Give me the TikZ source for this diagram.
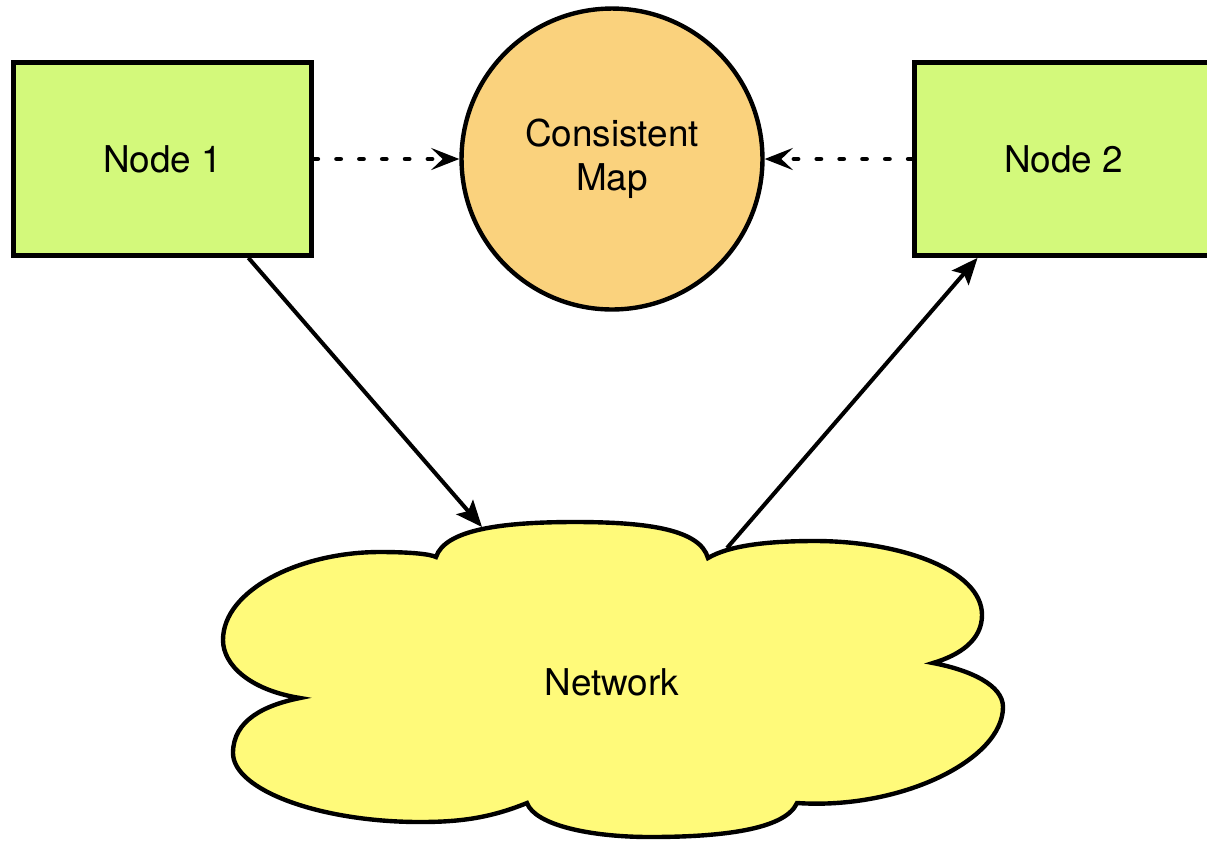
\documentclass[tikz,border=0pt]{standalone}
\usepackage{fontspec}
\setmainfont{TeX Gyre Heros}
\usetikzlibrary{shapes,arrows.meta,positioning,calc}

\definecolor{nodegreen}{HTML}{D3F97B}
\definecolor{maporange}{HTML}{FAD27D}
\definecolor{netyellow}{HTML}{FFFA7A}

\begin{document}
\begin{tikzpicture}[x=0.02cm, y=-0.02cm, font=\fontsize{21}{25}\selectfont]
    % Define styles
    \tikzset{
        block/.style={draw, rectangle, line width=3pt, minimum width=5.95cm, minimum height=3.85cm, fill=nodegreen},
        mapnode/.style={draw, circle, line width=2.5pt, minimum size=6.02cm, fill=maporange, align=center},
        cloudline/.style={draw, line width=2.5pt, fill=netyellow},
        arrow/.style={-{Stealth[length=15pt, width=12.5pt, inset=3pt]}, line width=2.3pt},
        dotarrow/.style={-{Stealth[length=16pt, width=12.5pt, inset=6.5pt]}, line width=2.8pt, line cap=round, dash pattern=on 2.2pt off 10.8pt}
    }
    \useasboundingbox (0,0) rectangle (1207,840);

    % Network cloud (drawn lobe by lobe)
    \draw[cloudline] (436,557)
        .. controls (445,530) and (500,522) .. (575,522)
        .. controls (650,522) and (700,530) .. (708,558)
        .. controls (730,545) and (770,541) .. (815,541)
        .. controls (900,541) and (982,570) .. (982,615)
        .. controls (982,640) and (960,655) .. (933,663)
        .. controls (970,670) and (1003,685) .. (1003,707)
        .. controls (1003,760) and (900,810) .. (797,803)
        .. controls (785,830) and (720,837) .. (650,837)
        .. controls (590,837) and (535,825) .. (527,803)
        .. controls (490,818) and (460,822) .. (420,822)
        .. controls (320,822) and (233,790) .. (233,753)
        .. controls (233,720) and (265,705) .. (300,698)
        .. controls (250,690) and (223,665) .. (223,640)
        .. controls (223,590) and (300,552) .. (380,552)
        .. controls (410,552) and (430,554) .. (436,557) -- cycle;

    % Place nodes
    \node[block] (node1) at (162.5,159) {Node 1};
    \node[block] (node2) at (1063.5,159) {Node 2};
    \node[mapnode] (map) at (612,159) {Consistent\\Map};
    \node (net) at (612,682) {Network};
    \coordinate (net-in) at (482,527);
    \coordinate (net-out) at (727,548);

    % Draw arrows
    \draw[dotarrow] (node1) -- (map);
    \draw[dotarrow] (node2) -- (map);
    \draw[arrow] (node1.-49) -- (net-in);
    \draw[arrow] (net-out) -- (node2.-131);
\end{tikzpicture}
\end{document}
